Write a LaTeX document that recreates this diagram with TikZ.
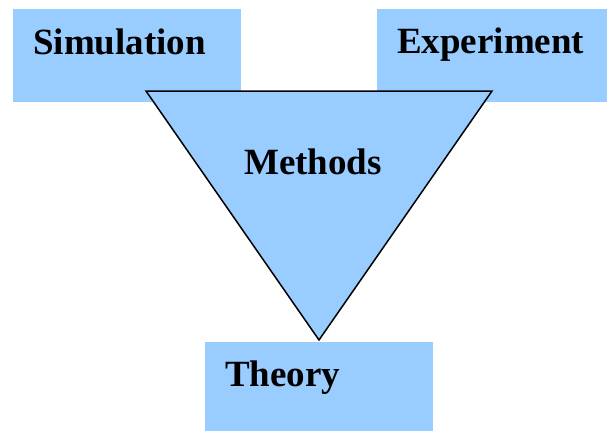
\documentclass[tikz,border=0pt]{standalone}
\usepackage{fontspec}
\setmainfont{Liberation Serif}
\definecolor{boxblue}{HTML}{99CCFF}
\tikzset{
  bluebox/.style={fill=boxblue, draw=none, anchor=north west, inner sep=0pt},
  lbl/.style={anchor=base west, inner sep=0pt, font=\bfseries\fontsize{37}{44}\selectfont},
  methodtri/.style={fill=boxblue, draw=black, line width=1.5pt, line join=miter}
}
\begin{document}
\begin{tikzpicture}[x=1pt,y=-1pt]
\useasboundingbox (0,0) rectangle (608,431);
\node[bluebox, minimum width=228pt, minimum height=93pt] (simbox) at (13,9) {};
\node[bluebox, minimum width=230pt, minimum height=93pt] (expbox) at (377,9) {};
\node[bluebox, minimum width=228pt, minimum height=89pt] (thbox) at (205,342) {};
\coordinate (tl) at (146,91);
\coordinate (tr) at (492,91);
\coordinate (tb) at (319,340);
\draw[methodtri] (tl) -- (tr) -- (tb) -- cycle;
\node[lbl] (simtxt) at (33,54) {Simulation};
\node[lbl] (exptxt) at (397,53) {Experiment};
\node[lbl] (methtxt) at (244,174) {Methods};
\node[lbl] (thtxt) at (225,386) {Theory};
\end{tikzpicture}
\end{document}
